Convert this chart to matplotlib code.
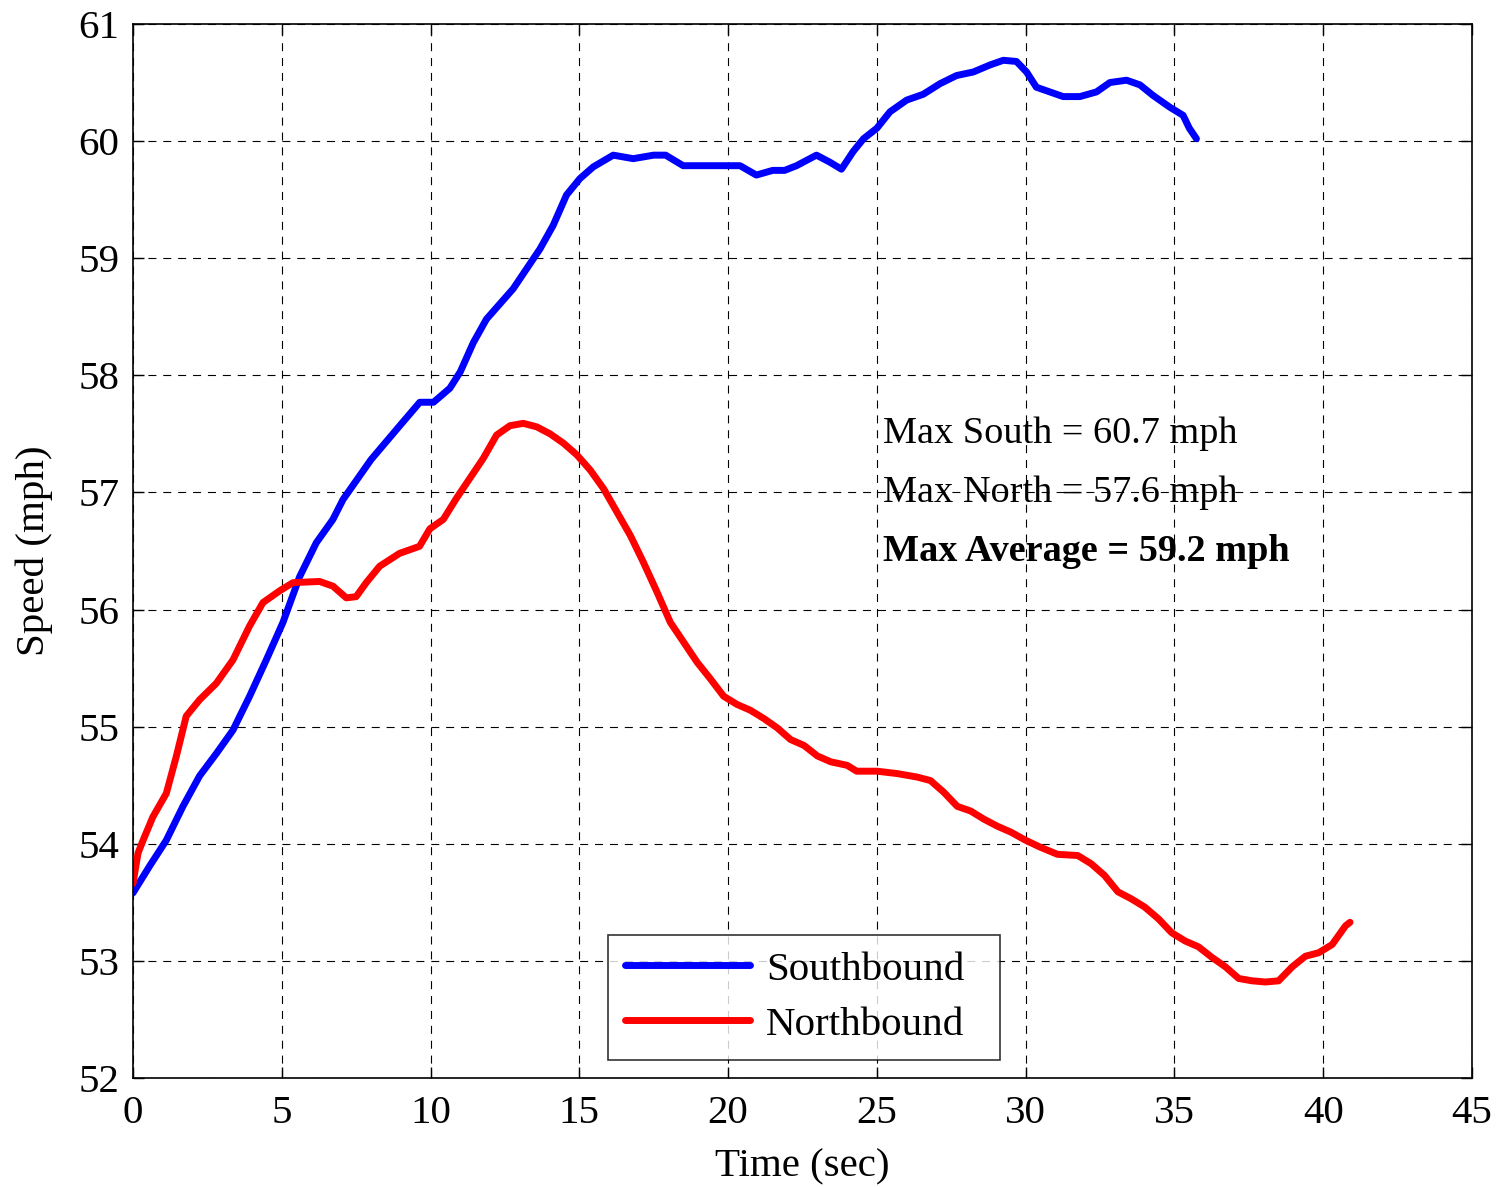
import matplotlib
matplotlib.use("Agg")
import matplotlib.pyplot as plt

plt.rcParams['font.family'] = ['Liberation Serif', 'DejaVu Serif']

# Southbound speed (mph) vs time (sec)
south_t = [0.0, 0.56, 1.12, 1.68, 2.24, 2.8, 3.36, 3.92, 4.48, 5.04, 5.6, 6.16, 6.72, 7.06,
           8.0, 9.0, 9.64, 10.1, 10.65, 11.0, 11.44, 11.88, 12.33, 12.78, 13.23, 13.68,
           14.12, 14.57, 15.02, 15.47, 16.14, 16.81, 17.5, 17.9, 18.49, 19.7, 20.4, 20.95,
           21.5, 21.9, 22.3, 22.97, 23.42, 23.81, 24.2, 24.55, 25.0, 25.44, 26.0, 26.56,
           27.12, 27.68, 28.24, 28.8, 29.25, 29.69, 30.03, 30.36, 30.81, 31.26, 31.82,
           32.38, 32.83, 33.39, 33.84, 34.28, 34.84, 35.29, 35.5, 35.74]
south_v = [53.58, 53.81, 54.03, 54.32, 54.58, 54.77, 54.97, 55.26, 55.57, 55.89, 56.28, 56.57,
           56.77, 56.94, 57.28, 57.58, 57.77, 57.77, 57.89, 58.03, 58.28, 58.48, 58.61, 58.74,
           58.91, 59.08, 59.28, 59.54, 59.68, 59.78, 59.88, 59.85, 59.88, 59.88, 59.79, 59.79,
           59.79, 59.71, 59.75, 59.75, 59.79, 59.88, 59.82, 59.76, 59.91, 60.02, 60.11, 60.25,
           60.35, 60.40, 60.49, 60.56, 60.59, 60.65, 60.69, 60.68, 60.59, 60.46, 60.42, 60.38,
           60.38, 60.42, 60.50, 60.52, 60.48, 60.39, 60.29, 60.22, 60.11, 60.02]

# Northbound speed (mph) vs time (sec)
north_t = [0.0, 0.17, 0.34, 0.67, 1.12, 1.46, 1.79, 2.24, 2.8, 3.36, 3.92, 4.37, 4.93, 5.38,
           6.27, 6.72, 7.17, 7.5, 7.84, 8.29, 8.96, 9.63, 9.98, 10.43, 10.87, 11.32, 11.77,
           12.22, 12.67, 13.12, 13.57, 14.02, 14.47, 14.92, 15.37, 15.82, 16.27, 16.72,
           17.16, 17.61, 18.06, 18.51, 18.96, 19.4, 19.85, 20.3, 20.75, 21.2, 21.65, 22.1,
           22.55, 23.0, 23.45, 24.0, 24.32, 25.0, 25.67, 26.35, 26.8, 27.25, 27.7, 28.15,
           28.6, 29.05, 29.5, 30.0, 30.5, 31.07, 31.75, 32.2, 32.65, 33.1, 33.55, 34.0,
           34.46, 34.91, 35.36, 35.81, 36.26, 36.71, 37.16, 37.61, 38.06, 38.5, 38.96,
           39.4, 39.85, 40.3, 40.75, 40.9]
north_v = [53.66, 53.92, 54.03, 54.23, 54.43, 54.75, 55.09, 55.23, 55.37, 55.57, 55.86, 56.06,
           56.16, 56.23, 56.24, 56.20, 56.10, 56.11, 56.23, 56.37, 56.48, 56.54, 56.69, 56.77,
           56.95, 57.12, 57.29, 57.49, 57.57, 57.59, 57.56, 57.50, 57.42, 57.32, 57.19, 57.03,
           56.83, 56.63, 56.40, 56.15, 55.89, 55.72, 55.55, 55.41, 55.26, 55.19, 55.14, 55.07,
           54.99, 54.89, 54.84, 54.75, 54.70, 54.67, 54.62, 54.62, 54.60, 54.57, 54.54, 54.44,
           54.32, 54.28, 54.21, 54.15, 54.10, 54.03, 53.97, 53.91, 53.90, 53.83, 53.73, 53.59,
           53.53, 53.46, 53.36, 53.24, 53.17, 53.12, 53.03, 52.95, 52.85, 52.83, 52.82, 52.83,
           52.95, 53.04, 53.07, 53.14, 53.30, 53.33]

x_ticks = [0, 5, 10, 15, 20, 25, 30, 35, 40, 45]
y_ticks = [52, 53, 54, 55, 56, 57, 58, 59, 60, 61]
annotations = ["Max South = 60.7 mph", "Max North = 57.6 mph", "Max Average = 59.2 mph"]

fig = plt.figure(figsize=(14.99, 11.87), dpi=100)
ax = fig.add_axes([0.0887, 0.0918, 0.8933, 0.888])

ax.plot(south_t, south_v, color='#0000ff', lw=5, label='Southbound', solid_capstyle='round')
ax.plot(north_t, north_v, color='#ff0000', lw=5, label='Northbound', solid_capstyle='round')

ax.set_xlim(0, 45)
ax.set_ylim(52, 61)
ax.set_xticks(x_ticks)
ax.set_yticks(y_ticks)
ax.tick_params(direction='in', top=True, right=True, labelsize=29.5, length=8, width=1)
ax.tick_params(axis='x', pad=12)
ax.tick_params(axis='y', pad=10)
ax.grid(True, color='black', linestyle=(0, (7.2, 6.2)), linewidth=0.8)
for s in ax.spines.values():
    s.set_linewidth(1.2)

ax.set_xlabel('Time (sec)', fontsize=29.5, labelpad=12)
ax.set_ylabel('Speed (mph)', fontsize=29.5, labelpad=18)

ax.text(25.2, 57.5, annotations[0], fontsize=27.5, va='center', ha='left')
ax.text(25.2, 57.0, annotations[1], fontsize=27.5, va='center', ha='left')
ax.text(25.2, 56.5, annotations[2], fontsize=27.5, va='center', ha='left', fontweight='bold')

leg = ax.legend(loc='lower left', bbox_to_anchor=(0.355, 0.017, 0.2925, 0.12), mode='expand',
                fontsize=29.5, frameon=True, fancybox=False, edgecolor='black',
                handlelength=3.05, borderpad=0.4, labelspacing=0.42, handletextpad=0.4,
                borderaxespad=0)
leg.get_frame().set_linewidth(1.2)

fig.savefig('out.png', dpi=100)
